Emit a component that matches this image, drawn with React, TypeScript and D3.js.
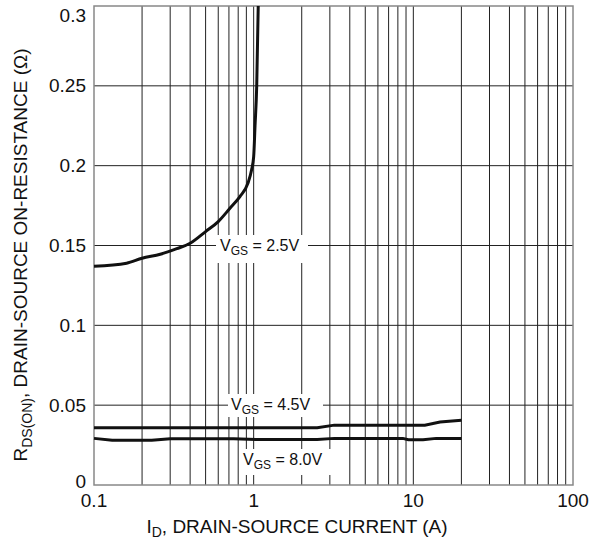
import React from "react";
import * as d3 from "d3";

const W = 589;
const H = 541;

const xDomain = [0.1, 100];
const yDomain = [0, 0.3];
const xTickLabels = [0.1, 1, 10, 100];
const yTickValues = [0, 0.05, 0.1, 0.15, 0.2, 0.25, 0.3];
const yTickLabels = ["0", "0.05", "0.1", "0.15", "0.2", "0.25", "0.3"];

const vgs25: [number, number][] = [
  [0.1, 0.137], [0.16, 0.1389], [0.2, 0.142], [0.26, 0.1445], [0.33, 0.148],
  [0.4, 0.1514], [0.5, 0.1587], [0.6, 0.165], [0.71, 0.1733], [0.82, 0.1806],
  [0.92, 0.189], [0.97, 0.1973], [1.0, 0.2056], [1.02, 0.225], [1.045, 0.25], [1.068, 0.3],
];
const vgs45: [number, number][] = [
  [0.1, 0.0359], [2.5, 0.0359], [3.2, 0.0375], [11.8, 0.0375], [14.7, 0.0395], [20, 0.0405],
];
const vgs80: [number, number][] = [
  [0.1, 0.0292], [0.13, 0.028], [0.23, 0.028], [0.3, 0.029], [0.75, 0.029], [1.05, 0.0285],
  [2.5, 0.0285], [3.2, 0.0292], [8.6, 0.0292], [9.3, 0.0283], [11.5, 0.0283], [13.9, 0.0292], [20, 0.0292],
];

const FONT = "'Liberation Sans', Arial, sans-serif";

export default function App() {
  const left = 94, right = 573, top = 6, bottom = 485;
  const x = d3.scaleLog().domain(xDomain).range([left, right]);
  const y = d3.scaleLinear().domain(yDomain).range([bottom, top]);

  const vLines: number[] = [];
  for (let dec = 0.1; dec < 100; dec *= 10) {
    for (let k = 2; k <= 9; k++) vLines.push(+(dec * k).toPrecision(3));
    if (dec * 10 < 100) vLines.push(+(dec * 10).toPrecision(3));
  }
  const hLines = yTickValues.slice(1, -1);

  const line = d3.line<[number, number]>().x(d => x(d[0])).y(d => y(d[1]));
  const smooth = d3.line<[number, number]>().x(d => x(d[0])).y(d => y(d[1])).curve(d3.curveMonotoneX);

  const yLabelPos = (i: number) => {
    if (i === yTickValues.length - 1) return 15;
    if (i === 0) return 481;
    return y(yTickValues[i]);
  };

  return (
    <svg width={W} height={H} style={{ position: "absolute", left: 0, top: 0, background: "#fff" }} fontFamily={FONT}>
      <rect x={0} y={0} width={W} height={H} fill="#fff" />
      {vLines.map((v, i) => (
        <line key={"v" + i} x1={x(v)} x2={x(v)} y1={top} y2={bottom} stroke="#222" strokeWidth={1} />
      ))}
      {hLines.map((v, i) => (
        <line key={"h" + i} x1={left} x2={right} y1={y(v)} y2={y(v)} stroke="#222" strokeWidth={1} />
      ))}
      <rect x={left} y={top} width={right - left} height={bottom - top} fill="none" stroke="#888" strokeWidth={1.5} />

      <path d={smooth(vgs25) || ""} fill="none" stroke="#111" strokeWidth={3} />
      <path d={line(vgs45) || ""} fill="none" stroke="#111" strokeWidth={3} />
      <path d={line(vgs80) || ""} fill="none" stroke="#111" strokeWidth={3} />

      {/* labels */}
      <rect x={216} y={235} width={92} height={28} fill="#fff" />
      <text x={220} y={251} fontSize={16} fill="#111">
        V<tspan fontSize={12} dy={4}>GS</tspan><tspan dy={-4}> = 2.5V</tspan>
      </text>
      <rect x={228} y={394} width={95} height={23} fill="#fff" />
      <text x={231} y={410} fontSize={16} fill="#111">
        V<tspan fontSize={12} dy={4}>GS</tspan><tspan dy={-4}> = 4.5V</tspan>
      </text>
      <rect x={240} y={449} width={92} height={26} fill="#fff" />
      <text x={243} y={465} fontSize={16} fill="#111">
        V<tspan fontSize={12} dy={4}>GS</tspan><tspan dy={-4}> = 8.0V</tspan>
      </text>

      {yTickLabels.map((t, i) => (
        <text key={"yt" + i} x={86} y={yLabelPos(i)} fontSize={19} textAnchor="end" dominantBaseline="central" fill="#111">{t}</text>
      ))}
      {xTickLabels.map((t, i) => (
        <text key={"xt" + i} x={x(t)} y={507} fontSize={19} textAnchor="middle" fill="#111">{String(t)}</text>
      ))}

      <text x={297} y={533} fontSize={19} textAnchor="middle" fill="#111">
        I<tspan fontSize={14} dy={4}>D</tspan><tspan dy={-4}>, DRAIN-SOURCE CURRENT (A)</tspan>
      </text>
      <text transform="translate(27,255) rotate(-90)" fontSize={19} textAnchor="middle" fill="#111">
        R<tspan fontSize={14} dy={5}>DS(ON)</tspan><tspan dy={-5}>, DRAIN-SOURCE ON-RESISTANCE (Ω)</tspan>
      </text>
    </svg>
  );
}
